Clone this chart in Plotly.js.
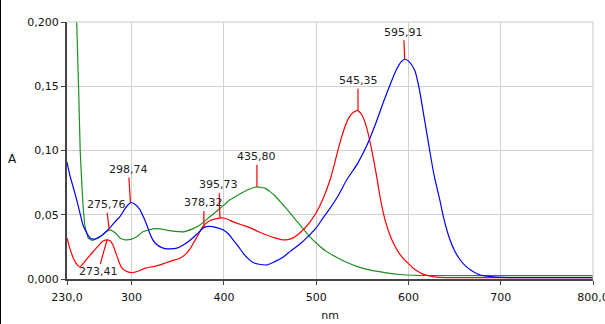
<!DOCTYPE html>
<html>
<head>
<meta charset="utf-8">
<script src="https://cdn.plot.ly/plotly-3.0.1.min.js"></script>
<style>
html,body{margin:0;padding:0;background:#fff;}
#chart{width:605px;height:324px;position:relative;}
#edge{position:absolute;left:0;top:0;width:1px;height:324px;background:#000;z-index:10;}
</style>
</head>
<body>
<div id="edge"></div>
<div id="chart"></div>
<script>
// Blue spectrum
const blueNm = [230,233,236.5,240.5,244,247.3,251.3,255,258,262,266,271,276.6,282,287.4,293,299,304,309,313,317,320,323,327,331,336,342,349,356,363,371,378,385,392,400,405,410,416,421,426,431.5,438,447,455,464,472,482,493,500,507,515,524,533,545,555,564,573,580,587,592,596,601,607,612,616,620,623,628,634,638,645,650,656,662,667,677,690,700,750,800];
const blueA  = [0.091,0.081,0.072,0.0616,0.0515,0.042,0.036,0.032,0.031,0.0315,0.033,0.036,0.040,0.0445,0.0486,0.055,0.0595,0.058,0.054,0.048,0.041,0.035,0.0305,0.027,0.025,0.0237,0.0235,0.024,0.0265,0.030,0.035,0.040,0.041,0.040,0.038,0.035,0.0305,0.025,0.020,0.016,0.0128,0.0115,0.011,0.0135,0.017,0.0215,0.027,0.0344,0.0398,0.047,0.055,0.065,0.077,0.090,0.104,0.120,0.138,0.151,0.163,0.169,0.171,0.169,0.162,0.147,0.130,0.113,0.100,0.080,0.0615,0.048,0.0305,0.022,0.015,0.010,0.0072,0.0033,0.0018,0.0012,0.001,0.001];

// Red spectrum
const redNm = [230,233,237,241,244,247,252,258,263,268,273,277,280,283,286,289,293,300,307,315,325,331,338,345,352,358,363,367,372,377,385,392,398,404,410,420,428,437,447,455,462,468,475,481,486,493,500,507,515,520,525,530,535,540,545,550,555,560,565,570,575,580,585,590,595,600,605,610,615,620,630,650,800];
const redA  = [0.032,0.024,0.016,0.011,0.0095,0.0115,0.016,0.021,0.025,0.029,0.0305,0.0295,0.026,0.020,0.014,0.009,0.0065,0.005,0.006,0.0085,0.0098,0.011,0.0128,0.0145,0.016,0.019,0.023,0.028,0.034,0.0405,0.0455,0.047,0.0475,0.0465,0.0445,0.042,0.040,0.037,0.034,0.032,0.0307,0.0305,0.032,0.035,0.0383,0.044,0.0515,0.0616,0.077,0.090,0.104,0.116,0.125,0.1295,0.131,0.127,0.117,0.101,0.082,0.061,0.045,0.034,0.026,0.020,0.0155,0.012,0.0085,0.006,0.004,0.0028,0.0015,0.001,0.001];

// Green spectrum
const greenNm = [240,240.5,242.5,243.7,244.3,246,247.5,249.5,253,257,261,266,273,276.6,282,287.4,293,300,306,312,323,331,338,347,356,366,374,385,396,406.6,417,426,436,445,450,455,462,468,475,482,486,493,500,511,522,533,544,555,570,590,610,800];
const greenA  = [0.21,0.2,0.15,0.117,0.1,0.075,0.056,0.041,0.032,0.030,0.031,0.033,0.037,0.0383,0.036,0.032,0.0305,0.031,0.033,0.0367,0.039,0.039,0.038,0.037,0.0367,0.039,0.042,0.0486,0.055,0.0616,0.066,0.0695,0.0717,0.0705,0.068,0.065,0.0595,0.0545,0.0485,0.0425,0.039,0.033,0.028,0.0215,0.017,0.013,0.0098,0.0075,0.0055,0.0035,0.0028,0.0026];

// Peak markers
const peakNm   = [595.91, 545.35, 435.80, 298.74, 275.76, 395.73, 378.32, 273.41];
const peakA    = [0.171, 0.131, 0.0717, 0.0595, 0.0383, 0.0475, 0.0405, 0.0305];

// Tick labels
const xTickVals = [230,300,400,500,600,700,800];
const xTickText = ["230,0","300","400","500","600","700","800,0"];
const yTickVals = [0,0.05,0.10,0.15,0.20];
const yTickText = ["0,000","0,05","0,10","0,15","0,200"];

const labelOffsets = [[-1,-27],[0,-30],[0,-30],[-2,-33],[-3,-25],[-1,-33],[0,-24],[-9,32]];

function fmt(v){ return v.toFixed(2).replace('.', ','); }

const FONT = 'Tahoma, DejaVu Sans, sans-serif';

const traces = [
  {x: greenNm, y: greenA, mode:'lines', line:{color:'#1f8f1f', width:1.2, shape:'spline', smoothing:0.4}, hoverinfo:'skip'},
  {x: redNm, y: redA, mode:'lines', line:{color:'#ff0000', width:1.2, shape:'spline', smoothing:0.6}, hoverinfo:'skip'},
  {x: blueNm, y: blueA, mode:'lines', line:{color:'#0000ff', width:1.2, shape:'spline', smoothing:0.6}, hoverinfo:'skip'}
];

const annotations = peakNm.map((nm,i)=>({
  x: nm, y: peakA[i], xref:'x', yref:'y',
  text: fmt(nm), showarrow:true, arrowhead:0, arrowwidth:1.2, arrowcolor:'#ff0000',
  ax: labelOffsets[i][0], ay: labelOffsets[i][1], standoff:0, startstandoff:0,
  font:{family:FONT, size:11, color:'#222'}
}));
// y-axis title drawn horizontally, as in the reference
annotations.push({text:'A', xref:'paper', yref:'paper', x:-0.104, y:0.465, showarrow:false,
  xanchor:'center', yanchor:'middle', font:{family:FONT, size:12, color:'#111'}});

const layout = {
  width:605, height:324,
  margin:{l:67, r:12, t:22, b:45, pad:0},
  paper_bgcolor:'#fff', plot_bgcolor:'#fff',
  showlegend:false,
  font:{family:FONT, size:11, color:'#111'},
  xaxis:{
    range:[230,800], tickvals:xTickVals, ticktext:xTickText,
    showgrid:true, gridcolor:'#d0d0d0', gridwidth:1,
    showline:true, linecolor:'#444', linewidth:2,
    ticks:'outside', ticklen:4, tickcolor:'#444',
    ticklabelstandoff:3, ticklabeloverflow:'allow',
    zeroline:false,
    title:{text:'nm', standoff:8, font:{size:11}}
  },
  yaxis:{
    range:[0,0.2], tickvals:yTickVals, ticktext:yTickText,
    showgrid:true, gridcolor:'#d0d0d0', gridwidth:1,
    showline:true, linecolor:'#444', linewidth:2,
    ticks:'outside', ticklen:4, tickcolor:'#444',
    zeroline:false
  },
  annotations: annotations,
  shapes:[
    {type:'line', xref:'paper', yref:'paper', x0:0, x1:1, y0:1, y1:1, line:{color:'#c8c8c8', width:1}},
    {type:'line', xref:'paper', yref:'paper', x0:1, x1:1, y0:0, y1:1, line:{color:'#c8c8c8', width:1}}
  ]
};

Plotly.newPlot('chart', traces, layout, {staticPlot:true, displayModeBar:false});
</script>
</body>
</html>
